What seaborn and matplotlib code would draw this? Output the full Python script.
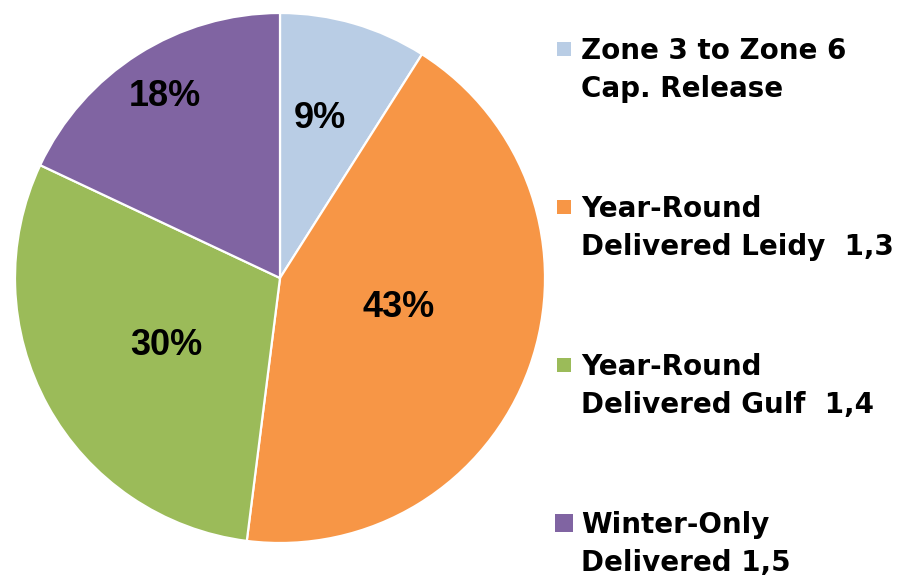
import numpy as np
import matplotlib
matplotlib.use("Agg")
import matplotlib.pyplot as plt
import seaborn as sns
from matplotlib.patches import Rectangle

sns.set_theme(style="white")
plt.rcParams['font.family'] = ['DejaVu Sans']

categories = [["Zone 3 to Zone 6", "Cap. Release"],
              ["Year-Round", "Delivered Leidy  1,3"],
              ["Year-Round", "Delivered Gulf  1,4"],
              ["Winter-Only", "Delivered 1,5"]]
values = [9, 43, 30, 18]
pct_labels = ["9%", "43%", "30%", "18%"]
colors = ["#B9CDE5", "#F79646", "#9BBB59", "#8064A2"]
label_dist = [0.62, 0.46, 0.50, 0.81]
label_angle_shift = [2, 6, 2, 0]

W, H = 899, 577
fig = plt.figure(figsize=(W / 100, H / 100), dpi=100)
ax = fig.add_axes([15 / W, 34 / H, 530 / W, 530 / H])

wedges, _ = ax.pie(values, colors=colors, startangle=90, counterclock=False,
                   radius=1.0, wedgeprops=dict(edgecolor="white", linewidth=1.6))
ax.set_xlim(-1, 1)
ax.set_ylim(-1, 1)
ax.set_aspect("equal")
ax.axis("off")

for w, lab, d, sh in zip(wedges, pct_labels, label_dist, label_angle_shift):
    ang = np.deg2rad((w.theta1 + w.theta2) / 2 + sh)
    ax.text(d * np.cos(ang), d * np.sin(ang), lab, ha="center", va="center",
            fontsize=26, fontweight="bold", family=["Liberation Sans", "DejaVu Sans"], color="black")

# legend (manual, first line aligned with marker)
line1_center = 49
step = 158
gap = 38
for i, (cat, col) in enumerate(zip(categories, colors)):
    yc = line1_center + i * step
    sq = 14 if i < 3 else 18
    fig.patches.append(Rectangle(((564 - sq / 2) / W, 1 - (yc + sq / 2) / H),
                                 sq / W, sq / H, transform=fig.transFigure,
                                 facecolor=col, edgecolor="none"))
    for j, line in enumerate(cat):
        fig.text(581 / W, 1 - (yc + 10 + j * gap) / H, line, ha="left", va="baseline",
                 fontsize=20, fontweight="bold", color="black")

fig.savefig("out.png", dpi=100, facecolor="white")
